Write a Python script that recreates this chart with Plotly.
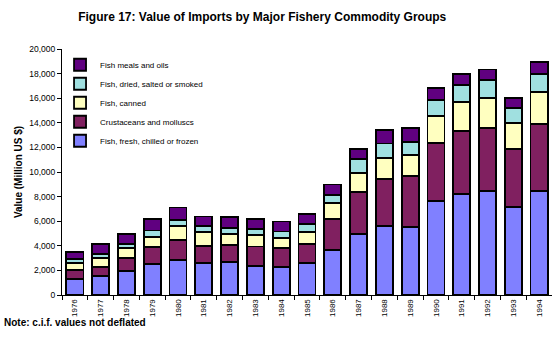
import plotly.graph_objects as go

years = [str(y) for y in range(1976, 1995)]
fresh = [1330, 1570, 1980, 2550, 2870, 2630, 2710, 2390, 2300, 2630, 3660, 4960, 5610, 5530, 7670, 8240, 8480, 7180, 8480]
crust = [680, 730, 1030, 1380, 1630, 1380, 1380, 1550, 1490, 1540, 2520, 3410, 3850, 4170, 4720, 5120, 5120, 4720, 5450]
canned = [570, 680, 790, 810, 1080, 1080, 870, 970, 870, 980, 1270, 1570, 1710, 1710, 2140, 2300, 2440, 2110, 2550]
dried = [350, 330, 320, 510, 540, 490, 490, 460, 510, 600, 700, 1110, 1140, 1060, 1350, 1440, 1460, 1190, 1460]
meals = [540, 810, 810, 900, 1000, 810, 870, 790, 810, 840, 840, 810, 1110, 1080, 920, 870, 840, 790, 980]

series = [
    ("Fish, fresh, chilled or frozen", fresh, "#8080FF"),
    ("Crustaceans and molluscs", crust, "#802060"),
    ("Fish, canned", canned, "#FFFFC0"),
    ("Fish, dried, salted or smoked", dried, "#A0E0E0"),
    ("Fish meals and oils", meals, "#600080"),
]

font = "Liberation Sans, Arial, sans-serif"
fig = go.Figure()
for name, vals, col in series:
    fig.add_trace(go.Bar(x=years, y=vals, name=name,
                         marker=dict(color=col, line=dict(color="black", width=1.8))))

fig.update_layout(
    barmode="stack",
    bargap=0.34,
    width=552, height=339,
    margin=dict(l=62, r=0, t=49, b=44),
    plot_bgcolor="white", paper_bgcolor="white",
    font=dict(family=font, size=9, color="black"),
    title=dict(text="<b>Figure 17: Value of Imports by Major Fishery Commodity Groups</b>",
               x=0.475, xanchor="center", xref="container", y=0.95, yanchor="middle",
               font=dict(size=12, family=font)),
    legend=dict(x=-0.004, y=0.995, xanchor="left", yanchor="top", traceorder="reversed",
                bgcolor="rgba(0,0,0,0)", font=dict(size=8), itemwidth=30,
                tracegroupgap=0),
    showlegend=True,
)
fig.update_yaxes(range=[0, 20000], tickvals=list(range(0, 20001, 2000)),
                 tickformat=",d", showgrid=False, showline=True, linecolor="black",
                 linewidth=1, ticks="outside", ticklen=4, tickcolor="black",
                 tickfont=dict(size=8.5),
                 title=dict(text="<b>Value (Million US $)</b>", font=dict(size=10), standoff=4))
fig.update_xaxes(showgrid=False, showline=True, linecolor="black", linewidth=1,
                 ticks="outside", ticklen=4, tickcolor="black", tickson="boundaries",
                 tickangle=-90, tickfont=dict(size=8))
fig.add_annotation(text="<b>Note: c.i.f. values not deflated</b>", xref="paper", yref="paper",
                   x=0, y=0, xanchor="left", yanchor="middle", showarrow=False,
                   xshift=-60, yshift=-27, font=dict(size=10, family=font))
fig.write_html("out.html", config={"displayModeBar": False},
               post_script="document.body.style.margin='0';")
